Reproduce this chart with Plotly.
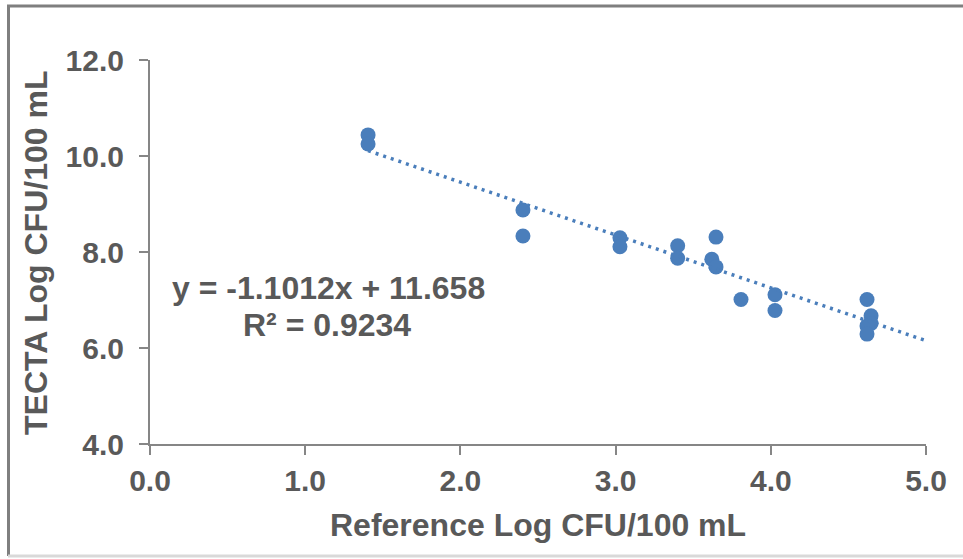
import plotly.graph_objects as go

# Data
ref_log = [1.405, 1.405, 2.403, 2.403, 3.028, 3.028, 3.40, 3.40, 3.647, 3.62,
           3.647, 3.808, 4.027, 4.027, 4.62, 4.646, 4.646, 4.62, 4.62]
tecta_log = [10.44, 10.25, 8.875, 8.333, 8.298, 8.11, 8.13, 7.87, 8.31, 7.85,
             7.69, 7.01, 7.11, 6.78, 7.01, 6.67, 6.51, 6.46, 6.29]
slope = -1.1012
intercept = 11.658
r_squared = 0.9234
x_ticks = [0, 1, 2, 3, 4, 5]
y_ticks = [4, 6, 8, 10, 12]

W, H = 963, 559
L, R, T, B = 150, 37, 60, 115
pw, ph = W - L - R, H - T - B


def px(xp):
    return (xp - L) / pw


def py(yp):
    return (H - B - yp) / ph


FONT = "Arial, Liberation Sans, sans-serif"
TXT = "#595959"
BLUE = "#4a7ebb"
AX = "#868686"

trend_x = [min(ref_log), x_ticks[-1]]
trend_y = [slope * v + intercept for v in trend_x]

fig = go.Figure()
fig.add_trace(go.Scatter(x=ref_log, y=tecta_log, mode="markers",
                         marker=dict(size=15, color=BLUE), showlegend=False,
                         cliponaxis=False))
fig.add_trace(go.Scatter(x=trend_x, y=trend_y, mode="lines",
                         line=dict(color=BLUE, width=3.5, dash="3px,5px"),
                         showlegend=False))

axis_common = dict(showgrid=False, zeroline=False, showline=True, linecolor=AX,
                   linewidth=2, ticks="outside", tickcolor=AX, tickwidth=2,
                   ticklen=9, tickformat=".1f",
                   tickfont=dict(family=FONT, size=30, color=TXT, weight="bold"))
fig.update_xaxes(range=[x_ticks[0], x_ticks[-1]], tickvals=x_ticks, **axis_common)
fig.update_yaxes(range=[y_ticks[0], y_ticks[-1]], tickvals=y_ticks,
                 ticklabelstandoff=9, **axis_common)

ann_font = dict(family=FONT, size=32, color=TXT, weight="bold")
fig.update_layout(
    width=W, height=H, margin=dict(l=L, r=R, t=T, b=B, pad=0),
    plot_bgcolor="white", paper_bgcolor="white",
    font=dict(family=FONT, color=TXT),
    annotations=[
        dict(text="Reference Log CFU/100 mL", xref="paper", yref="paper",
             x=px(538), y=py(525), xanchor="center", yanchor="middle",
             showarrow=False, font=ann_font),
        dict(text="TECTA Log CFU/100 mL", xref="paper", yref="paper",
             x=px(36), y=py(253), xanchor="center", yanchor="middle",
             textangle=-90, showarrow=False, font=ann_font),
        dict(text=f"y = {slope:.4f}x + {intercept:.3f}", xref="paper",
             yref="paper", x=px(328), y=py(288), xanchor="center",
             yanchor="middle", showarrow=False, font=ann_font),
        dict(text=f"R² = {r_squared:.4f}", xref="paper", yref="paper",
             x=px(327), y=py(325), xanchor="center", yanchor="middle",
             showarrow=False, font=ann_font),
    ],
    shapes=[
        dict(type="line", xref="paper", yref="paper", x0=px(7), x1=px(975),
             y0=py(6), y1=py(6), line=dict(color="#7f7f7f", width=3)),
        dict(type="line", xref="paper", yref="paper", x0=px(8.5), x1=px(8.5),
             y0=py(5), y1=py(556), line=dict(color="#7f7f7f", width=3)),
        dict(type="line", xref="paper", yref="paper", x0=px(8), x1=px(975),
             y0=py(556), y1=py(556), line=dict(color="#d9d9d9", width=3)),
    ],
)

fig.write_html("out.html", config={"displayModeBar": False},
               post_script="document.body.style.margin='0';"
                           "document.body.style.overflow='hidden';")
